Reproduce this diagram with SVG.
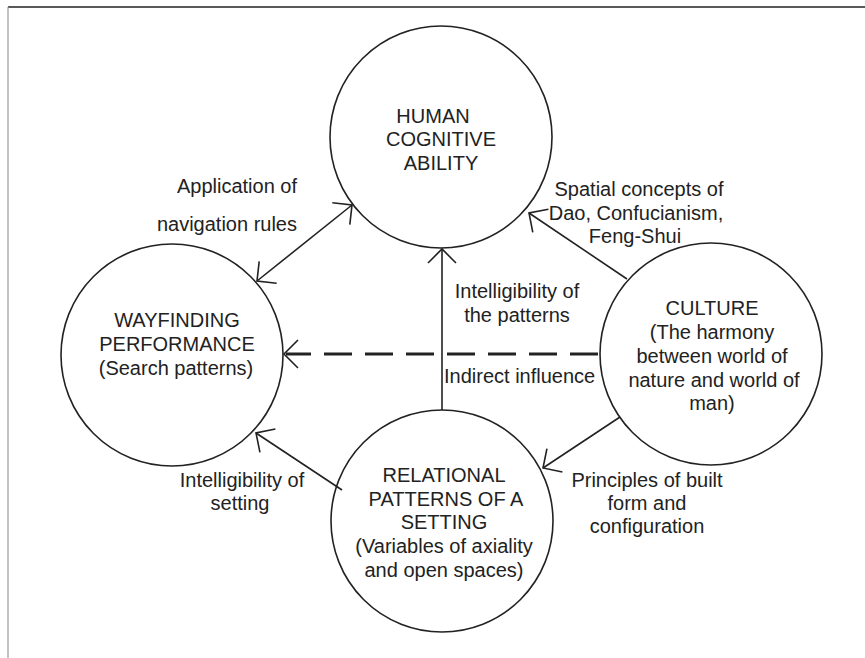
<svg xmlns="http://www.w3.org/2000/svg" width="865" height="658" viewBox="0 0 865 658">
<style>
.node{fill:#fff;stroke:#222;stroke-width:1.6}
.t{font-family:"Liberation Sans",Arial,sans-serif;font-size:20px;fill:#222;text-anchor:middle}
.l{font-family:"Liberation Sans",Arial,sans-serif;font-size:20px;fill:#222}
.c{stroke:#222;stroke-width:1.6;fill:none}
.d{stroke:#222;stroke-width:3;fill:none;stroke-dasharray:28 13}
</style>
<defs>
<marker id="ah" markerUnits="userSpaceOnUse" viewBox="-17 -17 34 34" markerWidth="34" markerHeight="34" refX="0" refY="0" orient="auto-start-reverse">
<path d="M-14,-14 L0,0 L-14,14" fill="none" stroke="#222" stroke-width="1.6"/>
</marker>
</defs>
<rect width="865" height="658" fill="#fff"/>
<line x1="8" y1="7" x2="865" y2="7" stroke="#222" stroke-width="1.5"/>
<line x1="8" y1="7" x2="8" y2="658" stroke="#999" stroke-width="1.2"/>
<g id="human">
<circle class="node" cx="441" cy="137" r="111"/>
<text class="t" x="433" y="123">HUMAN</text>
<text class="t" x="441" y="146">COGNITIVE</text>
<text class="t" x="441" y="170">ABILITY</text>
</g>
<g id="wayfinding">
<circle class="node" cx="172" cy="355" r="111"/>
<text class="t" x="177" y="327">WAYFINDING</text>
<text class="t" x="177" y="351">PERFORMANCE</text>
<text class="t" x="176" y="375">(Search patterns)</text>
</g>
<g id="culture">
<circle class="node" cx="711" cy="354" r="111"/>
<text class="t" x="712" y="315">CULTURE</text>
<text class="t" x="712" y="339">(The harmony</text>
<text class="t" x="712" y="363">between world of</text>
<text class="t" x="714" y="387">nature and world of</text>
<text class="t" x="712" y="410">man)</text>
</g>
<g id="relational">
<circle class="node" cx="442" cy="521" r="111"/>
<text class="t" x="444" y="482">RELATIONAL</text>
<text class="t" x="446" y="506">PATTERNS OF A</text>
<text class="t" x="444" y="529">SETTING</text>
<text class="t" x="444" y="553">(Variables of axiality</text>
<text class="t" x="444" y="577">and open spaces)</text>
</g>
<g id="connectors">
<line class="c" x1="257" y1="281" x2="352" y2="205" marker-start="url(#ah)" marker-end="url(#ah)"/>
<line class="c" x1="627" y1="279" x2="529" y2="213" marker-end="url(#ah)"/>
<line class="c" x1="442" y1="410" x2="442" y2="249" marker-end="url(#ah)"/>
<line class="d" x1="598" y1="354" x2="286" y2="354"/>
<line x1="300" y1="354" x2="284" y2="354" stroke="none" marker-end="url(#ah)"/>
<line class="c" x1="620" y1="417" x2="543" y2="468" marker-end="url(#ah)"/>
<line class="c" x1="342" y1="490" x2="256" y2="433" marker-end="url(#ah)"/>
</g>
<g id="labels">
<text class="l" x="297" y="193" text-anchor="end">Application of</text>
<text class="l" x="297" y="231" text-anchor="end">navigation rules</text>
<text class="t" x="639" y="196">Spatial concepts of</text>
<text class="t" x="636" y="220">Dao, Confucianism,</text>
<text class="t" x="635" y="243">Feng-Shui</text>
<text class="t" x="517" y="298">Intelligibility of</text>
<text class="t" x="517" y="322">the patterns</text>
<text class="l" x="444" y="383">Indirect influence</text>
<text class="t" x="242" y="487">Intelligibility of</text>
<text class="t" x="240" y="510">setting</text>
<text class="t" x="647" y="487">Principles of built</text>
<text class="t" x="647" y="510">form and</text>
<text class="t" x="647" y="533">configuration</text>
</g>
</svg>
